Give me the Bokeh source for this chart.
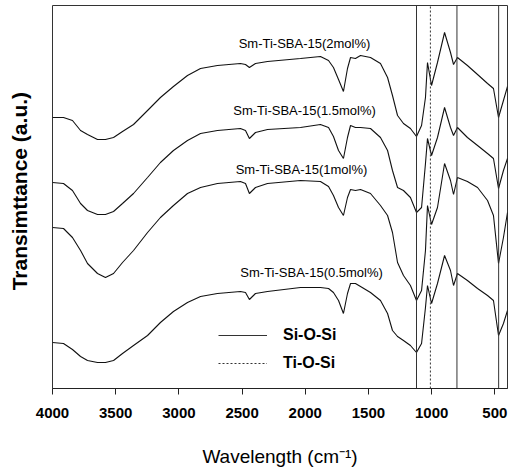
from bokeh.plotting import figure
from bokeh.models import Range1d, FixedTicker, Label, Legend, LegendItem
from bokeh.embed import file_html
from bokeh.resources import INLINE

# ---- data ----
wavenumber = [4000, 3913, 3842, 3778, 3723, 3644, 3581, 3517, 3446, 3359,
              3248, 3146, 3043, 2932, 2829, 2695, 2513, 2473, 2442, 2394,
              2299, 2038, 1880, 1816, 1777, 1737, 1698, 1666, 1642, 1603,
              1563, 1484, 1405, 1349, 1310, 1270, 1223, 1168, 1120, 1080,
              1049, 1033, 1001, 954, 898, 851, 827, 796, 717, 637,
              558, 511, 471, 432, 400]

t_2mol = [271, 271, 268, 258, 254, 249, 249, 251, 257, 264,
          278, 291, 302, 313, 320, 323, 325, 324, 321, 325,
          327, 330, 332, 328, 321, 309, 297, 320, 331, 330,
          333, 331, 325, 311, 293, 273, 265, 260, 252, 263,
          291, 326, 303, 326, 356, 336, 324, 331, 323, 314,
          305, 300, 271, 288, 302]

t_15mol = [206, 205, 198, 185, 178, 174, 174, 177, 185, 195,
           211, 226, 238, 248, 255, 258, 260, 258, 250, 256,
           259, 261, 264, 261, 252, 238, 230, 251, 263, 261,
           261, 260, 251, 238, 218, 201, 198, 191, 176, 181,
           225, 250, 233, 251, 281, 261, 253, 261, 251, 243,
           235, 230, 200, 218, 230]

t_1mol = [161, 160, 151, 138, 125, 115, 111, 115, 126, 138,
          156, 171, 183, 195, 201, 205, 207, 205, 195, 201,
          205, 208, 207, 202, 193, 181, 173, 191, 199, 198,
          199, 195, 183, 173, 156, 126, 113, 103, 88, 98,
          138, 183, 164, 181, 225, 208, 194, 211, 207, 201,
          188, 173, 125, 151, 176]

t_05mol = [46, 45, 39, 32, 28, 26, 26, 28, 35, 43,
           53, 66, 77, 86, 92, 95, 97, 96, 89, 95,
           97, 101, 101, 100, 96, 88, 75, 95, 105, 105,
           102, 96, 88, 75, 58, 52, 48, 43, 36, 45,
           81, 103, 85, 105, 133, 118, 103, 115, 108, 100,
           93, 88, 53, 65, 78]

series = [t_2mol, t_15mol, t_1mol, t_05mol]

sample_labels = ["Sm-Ti-SBA-15(2mol%)", "Sm-Ti-SBA-15(1.5mol%)",
                 "Sm-Ti-SBA-15(1mol%)", "Sm-Ti-SBA-15(0.5mol%)"]
label_x = [2006, 2006, 2030, 1950]
label_y = [345, 278, 219, 116]

si_o_si = [1120, 800, 470]
ti_o_si = [1010]

x_ticks = [4000, 3500, 3000, 2500, 2000, 1500, 1000, 500]
y_max = 383

FONT = "Liberation Sans"

p = figure(width=510, height=472, output_backend="svg", toolbar_location=None,
           x_range=Range1d(4000, 400), y_range=Range1d(0, y_max),
           min_border_left=52, min_border_right=3, min_border_top=5,
           min_border_bottom=84)
p.grid.visible = False
p.outline_line_color = "#333333"
p.outline_line_width = 1
p.background_fill_color = "white"
p.border_fill_color = "white"

# x axis
ax = p.xaxis[0]
ax.ticker = FixedTicker(ticks=x_ticks)
ax.major_tick_out = 6
ax.major_tick_in = 0
ax.minor_tick_line_color = None
ax.axis_line_color = "#222222"
ax.major_tick_line_color = "#222222"
ax.major_label_text_font = FONT
ax.major_label_text_font_style = "bold"
ax.major_label_text_font_size = "15px"
ax.major_label_text_color = "black"
ax.major_label_standoff = 13
ax.axis_label = "Wavelength (cm\u207b\u00b9)"
ax.axis_label_text_font = FONT
ax.axis_label_text_font_style = "normal"
ax.axis_label_text_font_size = "19px"
ax.axis_label_text_color = "black"
ax.axis_label_standoff = 25

# y axis: title only
ay = p.yaxis[0]
ay.ticker = FixedTicker(ticks=[])
ay.major_tick_out = 0
ay.major_tick_in = 0
ay.minor_tick_line_color = None
ay.major_label_standoff = 0
ay.axis_line_color = None
ay.axis_label = "\u00a0\u00a0Transimttance (a.u.)"
ay.axis_label_text_font = FONT
ay.axis_label_text_font_style = "bold"
ay.axis_label_text_font_size = "21px"
ay.axis_label_text_color = "black"
ay.axis_label_standoff = 22

for s in series:
    p.line(wavenumber, s, line_color="#111111", line_width=1.1)

r_solid = p.segment(x0=si_o_si, y0=[0] * len(si_o_si), x1=si_o_si, y1=[y_max] * len(si_o_si),
                    line_color="#333333", line_width=1)
r_dash = p.segment(x0=ti_o_si, y0=[0] * len(ti_o_si), x1=ti_o_si, y1=[y_max] * len(ti_o_si),
                   line_color="#333333", line_width=1, line_dash="2 2")

for txt, lx, ly in zip(sample_labels, label_x, label_y):
    p.add_layout(Label(x=lx, y=ly, text=txt, text_align="center", text_baseline="middle",
                       text_font=FONT, text_font_size="13px", text_color="black"))

legend = Legend(items=[LegendItem(label="Si-O-Si", renderers=[r_solid]),
                       LegendItem(label="Ti-O-Si", renderers=[r_dash])],
                location=(166, 15), padding=0, margin=0, spacing=8,
                glyph_width=49, glyph_height=20, label_height=20, label_standoff=16,
                label_text_font=FONT, label_text_font_style="bold",
                label_text_font_size="16px", label_text_color="black",
                border_line_color=None, background_fill_alpha=0)
p.add_layout(legend)

open("out.html", "w").write(file_html(p, INLINE))
